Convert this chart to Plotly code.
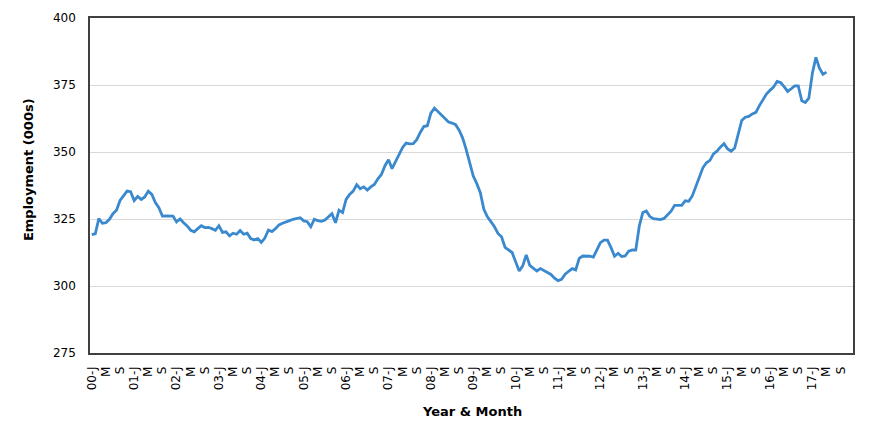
import plotly.graph_objects as go

# Monthly employment (000s), Jan 2000 - May 2017
employment = [
    319.2, 319.5, 325.2, 323.4, 323.6, 324.9, 327.0, 328.3, 331.9, 333.5, 335.4, 335.2,
    331.9, 333.4, 332.3, 333.2, 335.4, 334.2, 331.1, 329.2, 326.1, 326.2, 326.2, 326.1,
    323.9, 325.0, 323.6, 322.4, 320.8, 320.2, 321.4, 322.5, 321.8, 321.9, 321.4, 320.8,
    322.5, 320.0, 320.2, 318.7, 319.7, 319.3, 320.7, 319.3, 319.7, 317.7, 317.2, 317.7,
    316.3, 317.9, 320.9, 320.3, 321.4, 322.8, 323.4, 323.8, 324.4, 324.9, 325.2, 325.5,
    324.3, 324.0, 322.1, 324.9, 324.4, 324.1, 324.6, 325.9, 327.0, 323.6, 328.3, 327.4,
    332.3, 334.2, 335.4, 337.8, 336.3, 337.0, 335.8, 337.0, 337.9, 340.0, 341.6, 344.9,
    347.1, 343.8, 346.3, 349.0, 351.7, 353.3, 353.0, 353.1, 354.6, 357.3, 359.5, 359.8,
    364.5, 366.4, 365.1, 363.9, 362.6, 361.2, 360.8, 360.2, 358.1, 355.2, 350.9, 345.9,
    341.0, 338.2, 334.8, 328.6, 325.8, 324.0, 322.1, 319.6, 318.4, 314.4, 313.4, 312.5,
    309.0, 305.6, 307.5, 311.6, 307.7, 306.8, 305.6, 306.5, 305.8, 305.0, 304.3, 302.9,
    302.0, 302.5, 304.4, 305.5, 306.5, 306.0, 310.3, 311.2, 311.2, 311.1, 310.8, 313.4,
    316.2, 317.1, 317.1, 314.3, 311.1, 312.2, 311.0, 311.2, 313.0, 313.5, 313.4, 322.4,
    327.4, 328.0, 325.9, 325.1, 324.9, 324.8, 325.2, 326.4, 327.9, 330.1, 330.2, 330.1,
    331.8, 331.6, 333.6, 337.0, 340.6, 344.1, 346.0, 346.9, 349.3, 350.3, 351.9, 353.1,
    351.1, 350.3, 351.5, 357.1, 361.8, 363.0, 363.3, 364.2, 364.8, 367.3, 369.5, 371.6,
    373.0, 374.2, 376.3, 375.9, 374.4, 372.6, 373.6, 374.7, 374.7, 369.1, 368.5, 370.1,
    379.4, 385.3, 381.3, 379.0, 379.8,
]

years = [f"{y:02d}" for y in range(0, 18)]
month_letters = ["J", "M", "S"]
n_categories = len(years) * 12  # Jan 2000 .. Dec 2017

tick_vals = []
tick_text = []
for yi, yr in enumerate(years):
    for mi, ml in enumerate(month_letters):
        tick_vals.append(yi * 12 + mi * 4)
        tick_text.append(f"{yr}-{ml}" if ml == "J" else ml)

y_ticks = [275, 300, 325, 350, 375, 400]

x_title = "Year & Month"
y_title = "Employment (000s)"

font_family = "'DejaVu Sans', sans-serif"

fig = go.Figure()
fig.add_trace(go.Scatter(
    x=list(range(len(employment))),
    y=employment,
    mode="lines",
    line=dict(color="#3A89CF", width=2.8),
    hoverinfo="skip",
))

fig.update_layout(
    width=862, height=423,
    margin=dict(l=82, r=17, t=10, b=78, autoexpand=False),
    paper_bgcolor="white", plot_bgcolor="white",
    showlegend=False,
    font=dict(family=font_family, color="#000000"),
    annotations=[
        dict(text=f"<b>{x_title}</b>", xref="paper", yref="paper",
             x=0.5007, y=-0.176, xanchor="center", yanchor="middle",
             showarrow=False, font=dict(size=13, family=font_family, color="#000000")),
        dict(text=f"<b>{y_title}</b>", xref="paper", yref="paper",
             x=0, y=0.546, xshift=-62, xanchor="center", yanchor="middle",
             textangle=-90, showarrow=False,
             font=dict(size=13, family=font_family, color="#000000")),
    ],
)

fig.update_xaxes(
    range=[-0.5, n_categories - 0.5],
    tickmode="array", tickvals=tick_vals, ticktext=tick_text,
    tickangle=-90,
    tickfont=dict(size=12, family=font_family, color="#000000"),
    showgrid=False, zeroline=False,
    showline=True, linecolor="#404040", linewidth=1.5, mirror=True,
    ticks="outside", ticklen=7, tickcolor="rgba(0,0,0,0)",
)

fig.update_yaxes(
    range=[275, 400],
    tickmode="array", tickvals=y_ticks,
    tickfont=dict(size=12, family=font_family, color="#000000"),
    showgrid=True, gridcolor="#D9D9D9", gridwidth=1,
    zeroline=False,
    showline=True, linecolor="#404040", linewidth=1.5, mirror=True,
    ticks="outside", ticklen=10, tickcolor="rgba(0,0,0,0)",
)

fig.write_html("out.html")
